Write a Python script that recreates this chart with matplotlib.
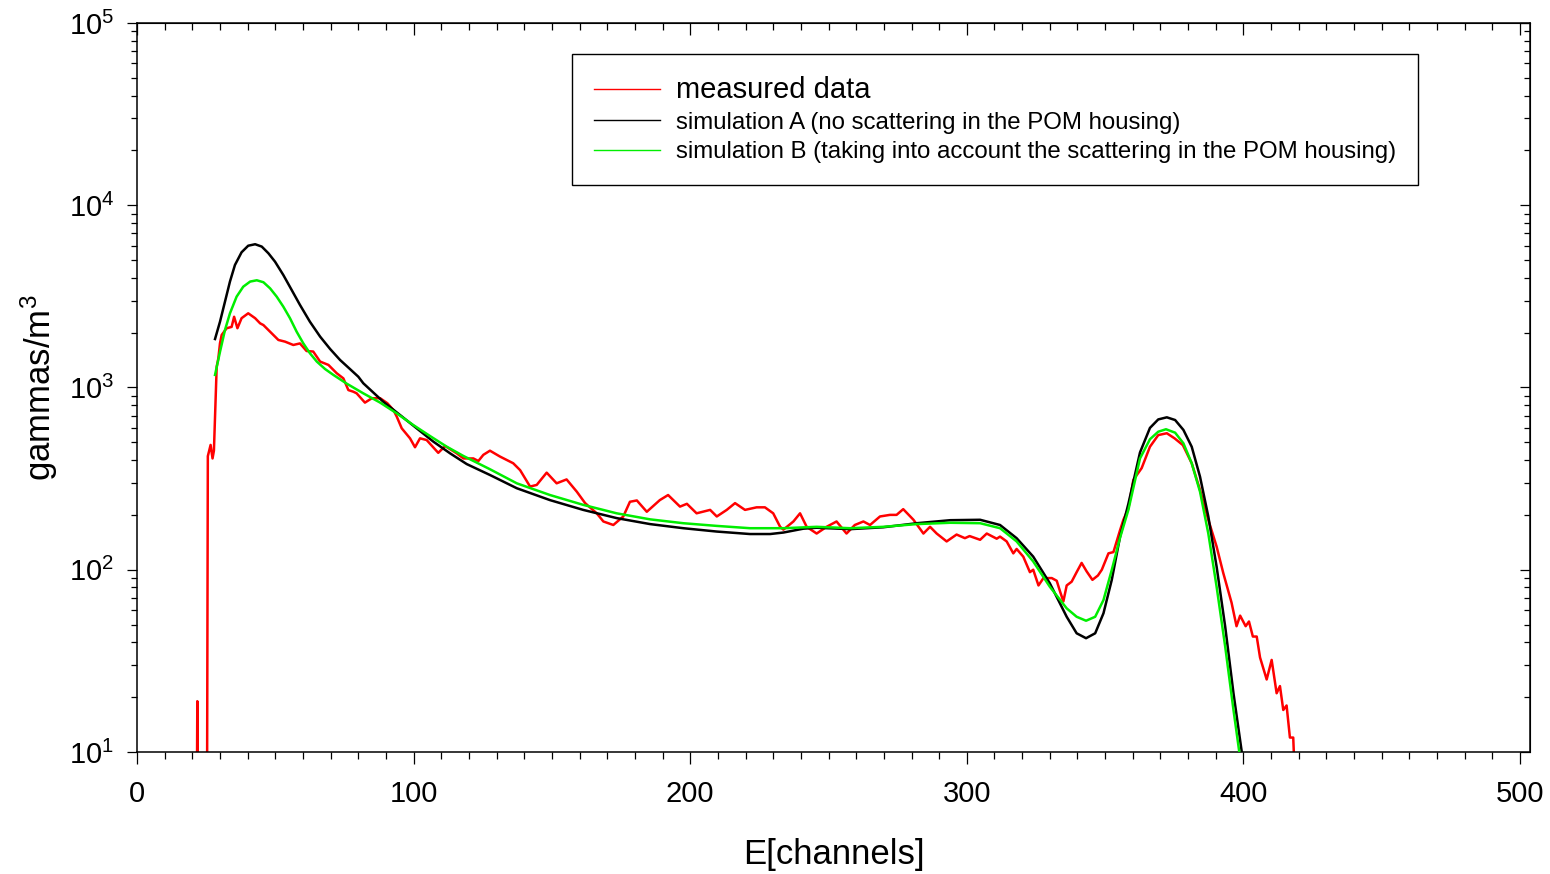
import numpy as np
import matplotlib
matplotlib.use("Agg")
from matplotlib import pyplot as plt
from matplotlib.lines import Line2D
from matplotlib.ticker import MultipleLocator, LogLocator

# measured spectrum (red)
meas_ch = [21.4, 21.8, 22.2, 25.2, 25.6, 26.6, 27.3, 27.8, 28.8, 29.4, 30.0,
           30.6, 32.4, 34.2, 35.1, 36.3, 37.8, 40.2, 42.7, 44.5, 45.7, 48.1,
           51.1, 53.5, 56.5, 58.9, 61.3, 63.7, 66.2, 69.2, 72.2, 74.6, 76.4,
           78.2, 79.4, 82.4, 84.9, 87.9, 90.5, 92.7, 93.9, 95.7, 98.7, 100.5,
           102.3, 104.7, 108.9, 111.4, 115.6, 118.0, 121.6, 123.4, 125.2,
           127.6, 131.2, 136.0, 138.5, 142.1, 144.5, 148.1, 151.7, 155.3,
           159.0, 162.0, 166.2, 168.6, 172.2, 175.8, 178.2, 180.7, 184.3,
           189.0, 192.0, 196.3, 198.8, 202.3, 207.2, 209.6, 213.2, 216.2,
           219.8, 224.0, 227.0, 230.0, 232.5, 233.7, 237.3, 239.7, 242.1,
           245.7, 249.3, 252.9, 256.5, 259.5, 262.6, 265.0, 268.6, 272.2,
           274.6, 277.0, 280.7, 284.3, 286.7, 289.1, 292.7, 296.3, 299.3,
           301.0, 304.8, 307.2, 310.8, 312.0, 314.4, 316.8, 318.0, 320.4,
           322.8, 324.0, 325.9, 327.7, 330.7, 332.5, 333.7, 334.9, 336.1,
           337.9, 339.7, 341.5, 343.3, 345.4, 347.4, 348.8, 351.2, 353.0,
           355.4, 356.6, 358.4, 360.2, 363.2, 366.2, 369.2, 372.3, 375.1,
           378.1, 381.3, 384.3, 387.3, 390.3, 392.7, 395.7, 397.5, 398.8,
           400.8, 402.0, 403.4, 404.8, 406.0, 408.4, 410.2, 412.0, 413.2,
           414.4, 415.6, 416.8, 418.0, 419.0]
meas_val = [1, 19, 1, 1, 420, 484, 408, 450, 1300, 1445, 1750,
            1941, 2114, 2150, 2443, 2114, 2400, 2553, 2400, 2249, 2200, 2025,
            1823, 1785, 1711, 1745, 1585, 1575, 1387, 1330, 1197, 1122, 968,
            948, 929, 826, 873, 873, 820, 752, 692, 597, 526, 470,
            526, 515, 438, 477, 435, 408, 408, 395, 427,
            450, 418, 384, 352, 286, 292, 341, 298, 313,
            268, 232, 204, 184, 176, 196, 236, 240, 208,
            241, 257, 222, 230, 204, 213, 196, 213, 232,
            213, 220, 220, 204, 172, 166, 184, 204, 172,
            158, 172, 184, 158, 176, 184, 176, 196, 200,
            200, 215, 188, 158, 172, 158, 143, 156, 149,
            153, 146, 158, 148, 152, 143, 123, 130, 118,
            97, 100, 82, 90, 90, 87, 76, 67, 82,
            86, 97, 109, 98, 88, 93, 100, 123, 125,
            165, 188, 217, 311, 361, 473, 548, 561, 526,
            483, 384, 274, 188, 134, 96, 66, 49, 56,
            49, 52, 43, 43, 33, 25, 32, 21, 23,
            17, 18, 12, 12, 5]

# simulation A (black)
simA_ch = [28.2, 30.0, 31.8, 33.6, 35.4, 37.8, 40.2, 42.7, 45.1, 47.5, 49.9,
           52.9, 55.9, 58.9, 62.5, 66.2, 69.8, 73.4, 77.0, 80.0, 81.8, 89.0,
           95.1, 101.1, 107.1, 113.2, 119.2, 127.6, 137.3, 149.3, 161.3,
           173.4, 185.5, 197.5, 209.6, 221.6, 228.9, 233.7, 240.9, 245.7,
           257.8, 269.8, 281.9, 294.0, 304.8, 312.0, 318.0, 324.0, 330.0,
           336.1, 339.7, 343.1, 346.4, 349.4, 352.4, 355.4, 358.4, 362.6,
           366.2, 369.2, 372.3, 375.3, 378.3, 381.3, 384.3, 387.3, 390.3,
           393.4, 396.4, 399.4, 400.2]
simA_val = [1845, 2296, 2958, 3812, 4700, 5520, 5997, 6110, 5930, 5450, 4900,
            4140, 3430, 2840, 2296, 1901, 1627, 1416, 1262, 1146, 1055, 836,
            706, 597, 505, 435, 380, 331, 280, 241, 213,
            192, 178, 169, 162, 157, 157, 160, 168, 170,
            167, 171, 180, 187, 188, 176, 149, 118, 84.3,
            55.2, 44.8, 42.1, 44.8, 57.7, 88, 152, 230, 440,
            600, 668, 686, 663, 585, 473, 324, 196, 104,
            48.8, 21, 10, 8]

# simulation B (green)
simB_ch = [28.2, 30.0, 31.8, 33.6, 36.0, 38.4, 40.9, 43.3, 45.7, 48.1, 50.5,
           52.9, 55.3, 57.7, 60.1, 62.5, 65.0, 68.0, 71.0, 75.8, 81.8, 87.9,
           93.9, 99.9, 105.9, 112.0, 118.0, 127.6, 137.3, 149.3, 161.3,
           173.4, 185.5, 197.5, 209.6, 221.6, 233.7, 245.7, 257.8, 269.8,
           281.9, 294.0, 304.8, 312.0, 318.0, 324.0, 330.0, 336.1, 339.7,
           343.1, 346.4, 349.4, 352.4, 355.4, 358.4, 362.6, 366.2, 369.2,
           372.0, 375.3, 378.3, 381.3, 384.3, 387.3, 390.3, 393.4, 396.4,
           398.5, 399.2]
simB_val = [1172, 1570, 2068, 2553, 3150, 3573, 3812, 3875, 3780, 3500, 3150,
            2775, 2400, 2025, 1748, 1542, 1387, 1262, 1172, 1050, 929, 826,
            721, 622, 542, 473, 421, 356, 298, 257, 227,
            204, 189, 180, 174, 169, 169, 172, 169, 172,
            178, 181, 180, 169, 143, 111, 80.7, 61.4, 55.2,
            52.5, 55.2, 68.2, 99.8, 150, 213, 408, 520, 572,
            590, 565, 494, 384, 268, 158, 80.7, 37.9, 17,
            10, 8]

labels = ["measured data",
          "simulation A (no scattering in the POM housing)",
          "simulation B (taking into account the scattering in the POM housing)"]
colors = ["#ff0000", "#000000", "#00ee00"]

plt.rcParams['font.family'] = ['Liberation Sans', 'DejaVu Sans']
plt.rcParams['mathtext.default'] = 'regular'

fig = plt.figure(figsize=(15.5, 8.74), dpi=100)
ax = fig.add_axes([0.0884, 0.1396, 0.8987, 0.8341])

ax.plot(meas_ch, meas_val, color=colors[0], lw=1.8, zorder=2)
ax.plot(simA_ch, simA_val, color=colors[1], lw=1.8, zorder=3)
ax.plot(simB_ch, simB_val, color=colors[2], lw=1.8, zorder=4)

ax.set_yscale("log")
ax.set_xlim(0, 503.6)
ax.set_ylim(10, 1e5)
ax.xaxis.set_major_locator(MultipleLocator(100))
ax.xaxis.set_minor_locator(MultipleLocator(10))

for sp in ax.spines.values():
    sp.set_linewidth(1.1)

ax.tick_params(which="both", direction="out", top=False, right=False,
               labelsize=21, width=0.9)
ax.tick_params(axis="x", which="major", length=8.5, pad=12)
ax.tick_params(axis="x", which="minor", length=5)
ax.tick_params(axis="y", which="major", length=7.5, pad=9)
ax.tick_params(axis="y", which="minor", length=4.5)

# mirrored ticks pointing inward on top and right
top = ax.secondary_xaxis("top")
top.xaxis.set_major_locator(MultipleLocator(100))
top.xaxis.set_minor_locator(MultipleLocator(10))
top.tick_params(which="both", direction="in", labeltop=False, width=0.9)
top.tick_params(which="major", length=8.5)
top.tick_params(which="minor", length=5)

right = ax.secondary_yaxis("right")
right.yaxis.set_major_locator(LogLocator(base=10))
right.yaxis.set_minor_locator(LogLocator(base=10, subs=np.arange(2, 10)))
right.tick_params(which="both", direction="in", labelright=False, width=0.9)
right.tick_params(which="major", length=7.5)
right.tick_params(which="minor", length=4.5)

ax.set_xlabel("E[channels]", fontsize=25, labelpad=21)
ax.set_ylabel("gammas/m$^3$", fontsize=25, labelpad=6)

handles = [Line2D([], [], color=c, lw=1.0) for c in colors]
leg = ax.legend(handles, labels, loc="upper left",
                bbox_to_anchor=(0.3123, 0.9575), fontsize=17.3,
                handlelength=2.75, handletextpad=0.67, borderpad=0.9,
                labelspacing=0.33, fancybox=False, framealpha=1,
                edgecolor="black", borderaxespad=0)
leg.get_frame().set_linewidth(1.0)
leg.get_texts()[0].set_fontsize(21)

fig.savefig("out.png", dpi=100)
